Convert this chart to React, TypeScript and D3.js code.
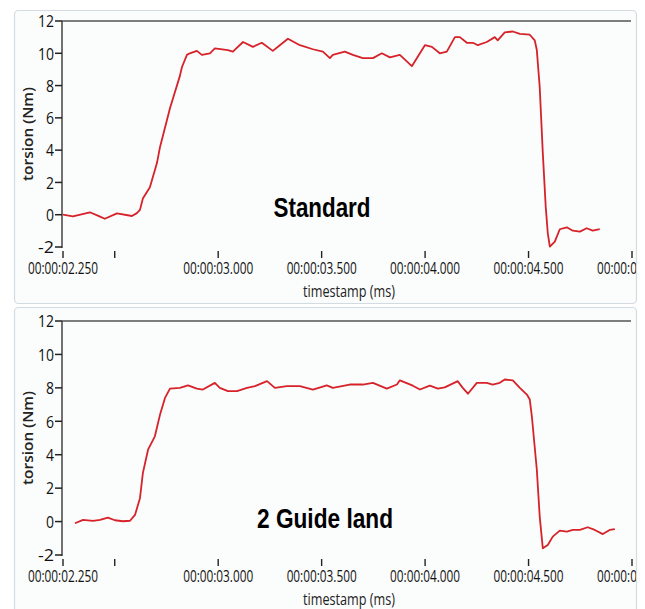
import React from "react";
import * as d3 from "d3";

// torque traces (time in s, torque in Nm)
const standardTime = [
  2.25, 2.298, 2.38, 2.429, 2.452, 2.511, 2.583, 2.607, 2.622, 2.636, 2.67, 2.704, 2.719, 2.767,
  2.815, 2.825, 2.849, 2.863, 2.897, 2.921, 2.96, 2.984, 3.047, 3.071, 3.12, 3.168, 3.211, 3.264,
  3.298, 3.337, 3.395, 3.458, 3.506, 3.54, 3.554, 3.612, 3.651, 3.699, 3.748, 3.791, 3.83, 3.878,
  3.936, 3.999, 4.033, 4.071, 4.105, 4.144, 4.168, 4.202, 4.231, 4.255, 4.298, 4.337, 4.351, 4.385,
  4.424, 4.458, 4.506, 4.53, 4.54, 4.554, 4.569, 4.583, 4.593, 4.603, 4.627, 4.651, 4.685, 4.714,
  4.748, 4.781, 4.81, 4.844,
];
const standardTorque = [
  0.0, -0.1, 0.15, -0.12, -0.25, 0.08, -0.08, 0.1, 0.3, 1.0, 1.7, 3.2, 4.2, 6.6,
  8.6, 9.15, 9.9, 10.0, 10.15, 9.9, 10.0, 10.3, 10.2, 10.1, 10.7, 10.4, 10.65, 10.15,
  10.5, 10.9, 10.5, 10.25, 10.1, 9.7, 9.9, 10.1, 9.9, 9.7, 9.7, 10.0, 9.75, 9.9,
  9.2, 10.5, 10.4, 10.0, 10.1, 11.0, 11.0, 10.65, 10.65, 10.5, 10.7, 11.0, 10.8, 11.3,
  11.35, 11.2, 11.15, 10.8, 10.2, 7.9, 3.8, 0.5, -1.15, -1.98, -1.67, -0.9, -0.78, -0.99,
  -1.05, -0.84, -0.99, -0.89,
];

const guideTime = [
  2.308, 2.347, 2.395, 2.429, 2.467, 2.501, 2.54, 2.574, 2.598, 2.622, 2.636, 2.661, 2.694, 2.719,
  2.743, 2.767, 2.815, 2.854, 2.897, 2.926, 2.984, 3.008, 3.047, 3.091, 3.139, 3.178, 3.236, 3.274,
  3.332, 3.395, 3.458, 3.525, 3.554, 3.636, 3.699, 3.748, 3.815, 3.864, 3.878, 3.941, 3.975, 4.023,
  4.062, 4.095, 4.158, 4.182, 4.207, 4.25, 4.298, 4.327, 4.361, 4.385, 4.424, 4.458, 4.492, 4.506,
  4.516, 4.54, 4.554, 4.569, 4.593, 4.617, 4.651, 4.685, 4.714, 4.748, 4.786, 4.82, 4.859, 4.892,
  4.917,
];
const guideTorque = [
  -0.1, 0.1, 0.04, 0.1, 0.24, 0.08, 0.02, 0.05, 0.4, 1.4, 2.9, 4.3, 5.1, 6.4,
  7.4, 7.95, 8.0, 8.15, 7.95, 7.9, 8.3, 8.0, 7.8, 7.8, 8.0, 8.1, 8.4, 8.0,
  8.1, 8.1, 7.9, 8.15, 8.0, 8.2, 8.2, 8.3, 7.95, 8.2, 8.45, 8.13, 7.9, 8.13,
  7.95, 8.03, 8.4, 8.0, 7.65, 8.3, 8.3, 8.2, 8.3, 8.5, 8.45, 8.0, 7.6, 7.3,
  6.3, 3.1, 0.3, -1.6, -1.4, -0.9, -0.54, -0.6, -0.5, -0.5, -0.34, -0.5, -0.75, -0.5,
  -0.45,
];

const yTicks = [-2, 0, 2, 4, 6, 8, 10, 12];
const xTicks = [2.25, 2.5, 3, 3.5, 4, 4.5, 5];
const xTickLabels = ["00:00:02.250", "", "00:00:03.000", "00:00:03.500", "00:00:04.000", "00:00:04.500", "00:00:05.000"];

const sans = '"Open Sans", "DejaVu Sans", sans-serif';
const lineColor = "#d62229";

const x = d3.scaleLinear().domain([2.25, 5]).range([63, 632]);

type PanelProps = {
  id: string;
  boxY: number;
  boxH: number;
  plotTop: number;
  plotBottom: number;
  times: number[];
  values: number[];
  note: string;
  noteY: number;
  noteX: number;
  noteW: number;
};

function Panel(p: PanelProps) {
  const y = d3.scaleLinear().domain([-2, 12]).range([p.plotBottom, p.plotTop]);
  const pts: [number, number][] = p.times.map((t, i) => [t, p.values[i]]);
  const line = d3
    .line<[number, number]>()
    .x((d) => x(d[0]))
    .y((d) => y(d[1]));
  const midY = (p.plotTop + p.plotBottom) / 2;

  return (
    <g>
      <defs>
        <clipPath id={p.id}>
          <rect x={14} y={p.boxY} width={622} height={p.boxH} />
        </clipPath>
      </defs>
      <rect x={14.5} y={p.boxY + 0.5} width={622} height={p.boxH} rx={4} fill="#fbfcfc" stroke="#d3dbe2" strokeWidth={1.2} />
      <g clipPath={`url(#${p.id})`}>
        {/* top frame line and y axis */}
        <line x1={62} x2={631} y1={p.plotTop} y2={p.plotTop} stroke="#555" strokeWidth={1.5} />
        <line x1={62} x2={62} y1={p.plotTop} y2={p.plotBottom + 1} stroke="#444" strokeWidth={1.5} />
        {yTicks.map((v) => (
          <g key={v}>
            <line x1={55} x2={62} y1={y(v)} y2={y(v)} stroke="#222" strokeWidth={1.5} />
            <text x={54} y={y(v)} dy="0.37em" textAnchor="end" fontFamily={sans} fontSize={17} fontWeight={500}
              textLength={String(v).length * 8} lengthAdjust="spacingAndGlyphs" fill="#111">
              {v}
            </text>
          </g>
        ))}
        {xTicks.map((t, i) => (
          <g key={t}>
            <line x1={x(t)} x2={x(t)} y1={p.plotBottom + 4} y2={p.plotBottom + 11} stroke="#222" strokeWidth={1.4} />
            {xTickLabels[i] && (
              <text x={x(t)} y={p.plotBottom + 27} textAnchor="middle" fontFamily={sans} fontSize={16} fontWeight={500}
                textLength={70} lengthAdjust="spacingAndGlyphs" fill="#111">
                {xTickLabels[i]}
              </text>
            )}
          </g>
        ))}
        <text x={349} y={p.plotBottom + 50} textAnchor="middle" fontFamily={sans} fontSize={16}
          textLength={92} lengthAdjust="spacingAndGlyphs" fill="#222">
          timestamp (ms)
        </text>
        <text transform={`translate(33,${midY}) rotate(-90)`} textAnchor="middle" fontFamily={sans}
          fontSize={15} fontWeight={600} textLength={94} lengthAdjust="spacingAndGlyphs" fill="#222">
          torsion (Nm)
        </text>
        <path d={line(pts) ?? ""} fill="none" stroke={lineColor} strokeWidth={1.8} strokeLinejoin="round" />
        <text x={p.noteX} y={p.noteY} textAnchor="middle" fontFamily='"Liberation Sans", Arial, sans-serif'
          fontWeight={700} fontSize={27} textLength={p.noteW} lengthAdjust="spacingAndGlyphs" fill="#000">
          {p.note}
        </text>
      </g>
    </g>
  );
}

export default function App() {
  return (
    <svg width={645} height={609} style={{ position: "absolute", left: 0, top: 0, display: "block", background: "#fff" }}>
      <Panel id="clipA" boxY={10} boxH={293} plotTop={21} plotBottom={247} times={standardTime} values={standardTorque}
        note="Standard" noteX={322} noteY={217} noteW={97} />
      <Panel id="clipB" boxY={307} boxH={320} plotTop={321} plotBottom={555} times={guideTime} values={guideTorque}
        note="2 Guide land" noteX={325} noteY={528} noteW={136} />
    </svg>
  );
}
